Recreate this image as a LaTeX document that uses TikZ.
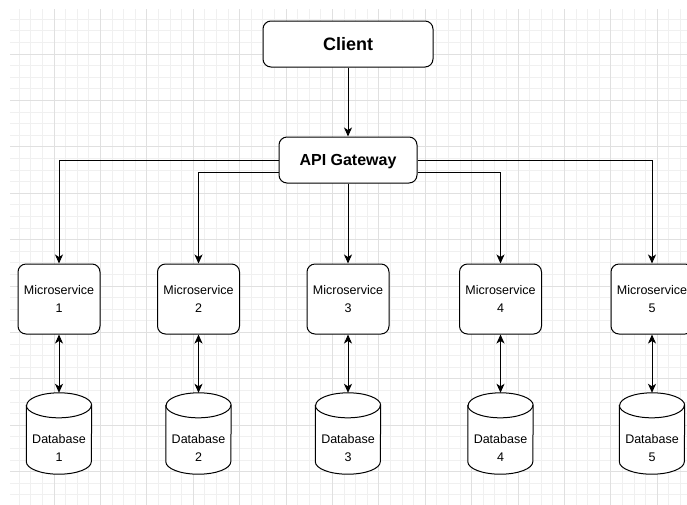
\documentclass[tikz,border=0pt]{standalone}
\usepackage{fontspec}
\setmainfont{Liberation Sans}
\usepackage{tikz}
\usetikzlibrary{arrows.meta,backgrounds}

\begin{document}
\begin{tikzpicture}[
        x=1pt, y=-1pt,
        box/.style={rectangle, rounded corners=8pt, draw=black, line width=1pt, fill=white, align=center},
        service/.style={box, minimum width=82pt, minimum height=70pt, font=\fontsize{12.5}{18}\selectfont},
        store/.style={rectangle, minimum width=65pt, minimum height=81pt, inner sep=0pt},
        storetext/.style={align=center, font=\fontsize{12.5}{18}\selectfont, yshift=-14.5pt},
        drum/.style={line width=1pt, fill=white},
        link/.style={line width=1pt, -{Stealth[length=9pt, width=8pt, inset=2.5pt]}},
        both/.style={line width=1pt, {Stealth[length=9pt, width=8pt, inset=2.5pt]}-{Stealth[length=9pt, width=8pt, inset=2.5pt]}}
    ]
        \path[use as bounding box, clip] (0,0) rectangle (687,504);

        % Grid
        \begin{pgfonlayer}{background}
        \begin{scope}[shift={(7.6,7.6)}, y=1pt]
            \draw[black!6, line width=0.8pt, step=11.6] (2.4,-497) grid (680,-1.4);
            \draw[black!12, line width=0.8pt, step=46.4] (2.4,-497) grid (680,-1.4);
        \end{scope}
        \end{pgfonlayer}

        % Client and gateway
        \node[box, minimum width=170pt, minimum height=46pt, font=\fontsize{18}{22}\selectfont\bfseries] (client) at (348,44) {Client};
        \node[box, minimum width=138pt, minimum height=46pt, text depth=0pt, font=\fontsize{16}{20}\selectfont\bfseries] (gateway) at (348,160) {API Gateway};

        % Microservices
        \node[service] (ms1) at (59,299) {Microservice\\1};
        \node[service] (ms2) at (198.5,299) {Microservice\\2};
        \node[service] (ms3) at (348,299) {Microservice\\3};
        \node[service] (ms4) at (500.5,299) {Microservice\\4};
        \node[service] (ms5) at (652,299) {Microservice\\5};

        % Databases
        \node[store, label={[storetext]center:Database\\1}] (db1) at (59,433.5) {};
        \node[store, label={[storetext]center:Database\\2}] (db2) at (198.5,433.5) {};
        \node[store, label={[storetext]center:Database\\3}] (db3) at (348,433.5) {};
        \node[store, label={[storetext]center:Database\\4}] (db4) at (500.5,433.5) {};
        \node[store, label={[storetext]center:Database\\5}] (db5) at (652,433.5) {};

        \begin{pgfonlayer}{background}
        \foreach \i in {1,...,5} {
            \draw[drum] ([yshift=-12.5pt]db\i.north west) -- ([yshift=12.5pt]db\i.south west)
                arc[start angle=180, end angle=360, x radius=32.5pt, y radius=12.5pt]
                -- ([yshift=-12.5pt]db\i.north east)
                arc[start angle=0, end angle=180, x radius=32.5pt, y radius=12.5pt] -- cycle;
            \draw[drum, fill=none] ([yshift=-12.5pt]db\i.north west)
                arc[start angle=180, end angle=360, x radius=32.5pt, y radius=12.5pt];
        }
        \end{pgfonlayer}

        % Connections
        \draw[link] (client) -- (gateway);
        \draw[link] (gateway.west) -| (ms1.north);
        \draw[link] ([yshift=-12pt]gateway.west) -| (ms2.north);
        \draw[link] (gateway.south) -- (ms3.north);
        \draw[link] ([yshift=-12pt]gateway.east) -| (ms4.north);
        \draw[link] (gateway.east) -| (ms5.north);

        \draw[both] (ms1) -- (db1);
        \draw[both] (ms2) -- (db2);
        \draw[both] (ms3) -- (db3);
        \draw[both] (ms4) -- (db4);
        \draw[both] (ms5) -- (db5);
    \end{tikzpicture}
\end{document}
